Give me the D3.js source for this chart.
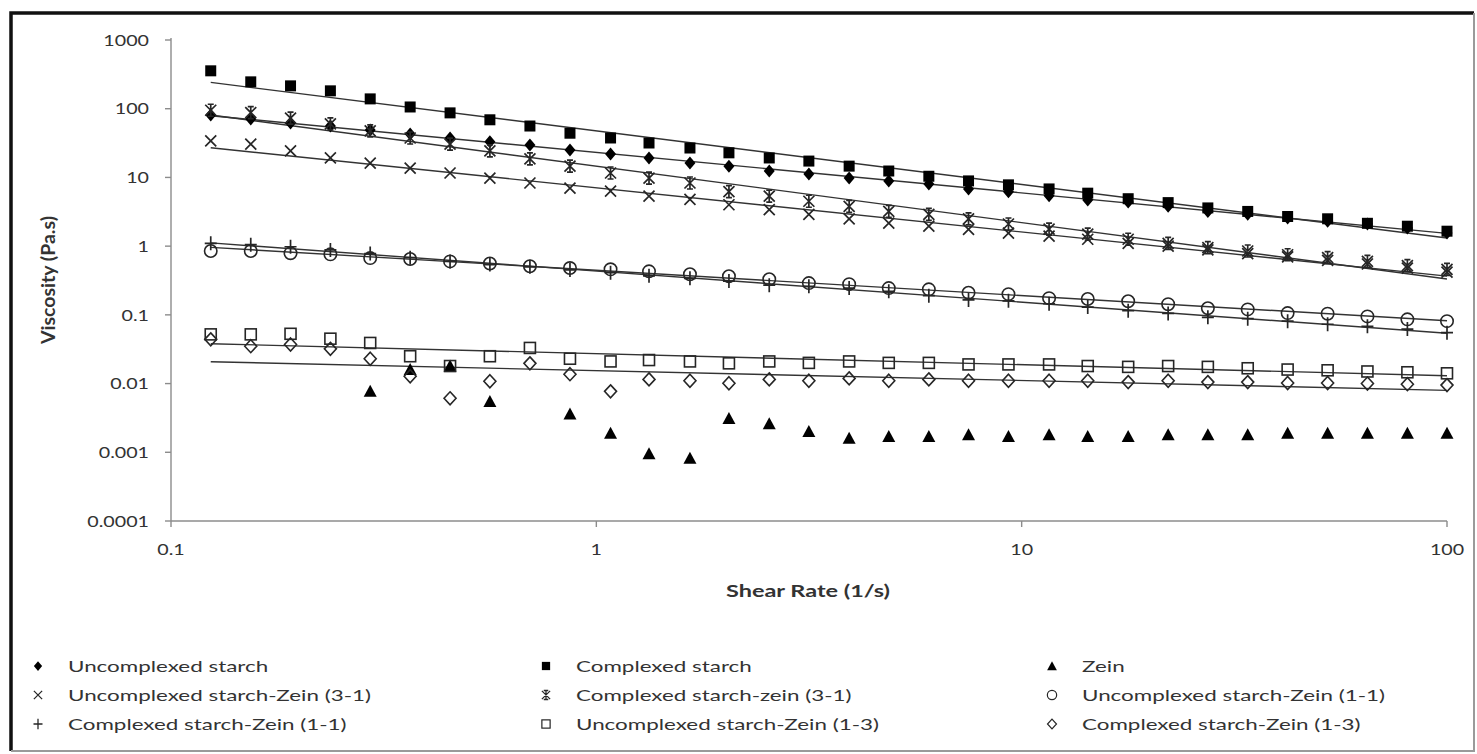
<!DOCTYPE html>
<html lang="en">
<head>
<meta charset="UTF-8">
<title>Viscosity vs Shear Rate</title>
<script src="https://cdn.jsdelivr.net/npm/d3@7"></script>
<style>
  body { margin: 0; background: #fff; }
  svg text { font-family: Lato, "Open Sans", sans-serif; fill: #333; }
</style>
</head>
<body>
<svg id="chart" width="1477" height="754"></svg>
<script>
// shear rate (1/s) of each measurement
var shearRate = [0.124, 0.154, 0.191, 0.237, 0.294, 0.365, 0.453, 0.562, 0.698, 0.867,
  1.08, 1.33, 1.66, 2.05, 2.55, 3.16, 3.93, 4.87, 6.05, 7.50,
  9.31, 11.6, 14.3, 17.8, 22.1, 27.4, 34.0, 42.2, 52.4, 65.0, 80.7, 100];

// viscosity (Pa.s) per sample
var uncomplexedStarch = [81, 71, 62, 56, 49, 43, 37.5, 33, 29.7, 25, 22, 19.2, 16.2, 14.6, 12.4, 11.2,
  9.8, 8.9, 8.0, 6.8, 6.2, 5.4, 4.7, 4.4, 3.8, 3.2, 2.9, 2.56, 2.3, 2.1, 1.83, 1.55];
var complexedStarch = [356, 246, 215, 182, 139, 106, 87, 69, 56, 44, 37.5, 31.7, 26.8, 22.8, 19.2, 17.3,
  14.6, 12.4, 10.4, 8.9, 7.8, 6.8, 5.9, 4.9, 4.3, 3.6, 3.2, 2.7, 2.5, 2.15, 1.95, 1.65];
var zein = [null, null, null, null, 0.0077, 0.016, 0.018, 0.0055, null, 0.0036, 0.0019, 0.00095, 0.00082,
  0.0031, 0.0026, 0.0020, 0.0016, 0.0017, 0.0017, 0.0018, 0.0017, 0.0018, 0.0017, 0.0017,
  0.0018, 0.0018, 0.0018, 0.0019, 0.0019, 0.0019, 0.0019, 0.0019];
var uncomplexedZein31 = [34, 30.6, 24.3, 19.2, 16.2, 13.7, 11.6, 9.8, 8.3, 7.0, 6.3, 5.35, 4.8, 4.0, 3.4, 2.9,
  2.5, 2.16, 1.95, 1.75, 1.55, 1.4, 1.26, 1.1, 1.0, 0.88, 0.78, 0.7, 0.62, 0.55, 0.48, 0.42];
var complexedZein31 = [95, 88, 73, 60, 47.5, 37.5, 30.6, 24.3, 18.6, 14.6, 11.6, 9.8, 8.3, 6.2, 5.35, 4.5,
  3.8, 3.2, 2.9, 2.5, 2.1, 1.77, 1.5, 1.26, 1.1, 0.95, 0.85, 0.75, 0.68, 0.6, 0.52, 0.46];
var uncomplexedZein11 = [0.85, 0.85, 0.79, 0.76, 0.67, 0.65, 0.60, 0.56, 0.51, 0.48, 0.46, 0.43, 0.39, 0.365,
  0.33, 0.29, 0.28, 0.245, 0.235, 0.21, 0.2, 0.175, 0.17, 0.158, 0.143, 0.125, 0.12, 0.106, 0.104, 0.095, 0.086, 0.081];
var complexedZein11 = [1.1, 1.05, 0.98, 0.88, 0.78, 0.68, 0.6, 0.54, 0.5, 0.45, 0.41, 0.37, 0.34, 0.31, 0.27,
  0.26, 0.245, 0.22, 0.19, 0.165, 0.16, 0.145, 0.13, 0.115, 0.105, 0.092, 0.088, 0.081, 0.073, 0.068, 0.062, 0.055];
var uncomplexedZein13 = [0.052, 0.052, 0.053, 0.045, 0.039, 0.025, 0.018, 0.025, 0.033, 0.023, 0.021, 0.022,
  0.021, 0.0197, 0.021, 0.020, 0.021, 0.020, 0.020, 0.019, 0.019, 0.019, 0.018, 0.0175, 0.018, 0.0175,
  0.0167, 0.016, 0.0156, 0.015, 0.0146, 0.0141];
var complexedZein13 = [0.044, 0.035, 0.037, 0.032, 0.023, 0.0128, 0.0061, 0.0108, 0.0197, 0.0137, 0.0077,
  0.0115, 0.011, 0.0101, 0.0115, 0.011, 0.0119, 0.011, 0.0115, 0.011, 0.011, 0.011, 0.011, 0.0105, 0.011,
  0.0105, 0.0105, 0.0102, 0.0102, 0.010, 0.0098, 0.0095];

var seriesNames = ["Uncomplexed starch", "Complexed starch", "Zein",
  "Uncomplexed starch-Zein (3-1)", "Complexed starch-zein (3-1)", "Uncomplexed starch-Zein (1-1)",
  "Complexed starch-Zein (1-1)", "Uncomplexed starch-Zein (1-3)", "Complexed starch-Zein (1-3)"];
var seriesValues = [uncomplexedStarch, complexedStarch, zein, uncomplexedZein31, complexedZein31,
  uncomplexedZein11, complexedZein11, uncomplexedZein13, complexedZein13];
var seriesSymbols = ["diamond", "square", "triangle", "cross", "star", "circle", "plus", "openSquare", "openDiamond"];
var seriesTrend = [true, true, false, true, true, true, true, true, true];

var xTicks = [0.1, 1, 10, 100];
var yTicks = [0.0001, 0.001, 0.01, 0.1, 1, 10, 100, 1000];

var svg = d3.select("#chart");
var plot = {left: 171, right: 1447, top: 40, bottom: 521};

var x = d3.scaleLog().domain([0.1, 100]).range([plot.left, plot.right]);
var y = d3.scaleLog().domain([0.0001, 1000]).range([plot.bottom, plot.top]);

// frame
svg.append("rect").attr("x", 0).attr("y", 0).attr("width", 1477).attr("height", 754).attr("fill", "#fff");
svg.append("path").attr("d", "M11,751 V13 H1474").attr("fill", "none").attr("stroke", "#111").attr("stroke-width", 3.5);
svg.append("path").attr("d", "M1474,13 V751 H11").attr("fill", "none").attr("stroke", "#9a9a9a").attr("stroke-width", 2);

// the source chart is wider than tall, so text gets a horizontal stretch
function wideText(g, px, py, str, anchor, size, sx, weight) {
  return g.append("text")
    .attr("transform", "translate(" + px + "," + py + ") scale(" + sx + ",1)")
    .attr("text-anchor", anchor)
    .attr("dominant-baseline", "central")
    .style("font-size", size + "px")
    .style("font-weight", weight || "normal")
    .text(str);
}

// axes
var axes = svg.append("g");
axes.append("line").attr("x1", plot.left).attr("x2", plot.left).attr("y1", plot.top - 2).attr("y2", plot.bottom)
  .attr("stroke", "#8c8c8c").attr("stroke-width", 1.4);
axes.append("line").attr("x1", plot.left).attr("x2", plot.right).attr("y1", plot.bottom).attr("y2", plot.bottom)
  .attr("stroke", "#8c8c8c").attr("stroke-width", 1.4);
yTicks.forEach(function(t) {
  axes.append("line").attr("x1", plot.left - 6).attr("x2", plot.left).attr("y1", y(t)).attr("y2", y(t))
    .attr("stroke", "#8c8c8c").attr("stroke-width", 1.4);
  wideText(axes, 149, y(t), String(t), "end", 15.5, 1.27);
});
xTicks.forEach(function(t) {
  axes.append("line").attr("x1", x(t)).attr("x2", x(t)).attr("y1", plot.bottom).attr("y2", plot.bottom + 6)
    .attr("stroke", "#8c8c8c").attr("stroke-width", 1.4);
  wideText(axes, x(t), 549, String(t), "middle", 15.5, 1.27);
});
wideText(axes, 808, 590, "Shear Rate (1/s)", "middle", 17, 1.38, "bold");
axes.append("text")
  .attr("transform", "translate(47,280) rotate(-90)")
  .attr("text-anchor", "middle").attr("dominant-baseline", "central")
  .style("font-size", "19.5px").style("font-weight", "bold")
  .text("Viscosity (Pa.s)");

// marker shapes
function drawMarker(g, sym, cx, cy, k) {
  var s = k || 1;
  var ink = "#262626";
  var m = g.append("g").attr("transform", "translate(" + cx + "," + cy + ") scale(" + s + ")");
  if (sym === "diamond") m.append("path").attr("d", "M0,-6.5L5.5,0L0,6.5L-5.5,0Z").attr("fill", "#000");
  if (sym === "square") m.append("rect").attr("x", -5.5).attr("y", -5.5).attr("width", 11).attr("height", 11).attr("fill", "#000");
  if (sym === "triangle") m.append("path").attr("d", "M0,-6.5L6.5,5.5L-6.5,5.5Z").attr("fill", "#000");
  if (sym === "cross") m.append("path").attr("d", "M-5.5,-5.5L5.5,5.5M-5.5,5.5L5.5,-5.5")
    .attr("stroke", ink).attr("stroke-width", 1.7).attr("fill", "none");
  if (sym === "star") m.append("path").attr("d", "M-5.5,-5.5L5.5,5.5M-5.5,5.5L5.5,-5.5M0,-6.5L0,6.5M-3,-6L3,-6M-3,6L3,6")
    .attr("stroke", ink).attr("stroke-width", 1.7).attr("fill", "none");
  if (sym === "circle") m.append("circle").attr("r", 6.2)
    .attr("stroke", ink).attr("stroke-width", 1.6).attr("fill", "none");
  if (sym === "plus") m.append("path").attr("d", "M-6,0L6,0M0,-7L0,7")
    .attr("stroke", ink).attr("stroke-width", 1.7).attr("fill", "none");
  if (sym === "openSquare") m.append("rect").attr("x", -5.5).attr("y", -5.5).attr("width", 11).attr("height", 11)
    .attr("stroke", ink).attr("stroke-width", 1.6).attr("fill", "none");
  if (sym === "openDiamond") m.append("path").attr("d", "M0,-6.5L6,0L0,6.5L-6,0Z")
    .attr("stroke", ink).attr("stroke-width", 1.6).attr("fill", "none");
}

// power-law trend lines (least squares in log-log space)
var trendLayer = svg.append("g");
seriesValues.forEach(function(vals, i) {
  if (!seriesTrend[i]) return;
  var pts = [];
  vals.forEach(function(v, j) { if (v != null) pts.push([Math.log10(shearRate[j]), Math.log10(v)]); });
  var mx = d3.mean(pts, function(p) { return p[0]; });
  var my = d3.mean(pts, function(p) { return p[1]; });
  var sxy = d3.sum(pts, function(p) { return (p[0] - mx) * (p[1] - my); });
  var sxx = d3.sum(pts, function(p) { return (p[0] - mx) * (p[0] - mx); });
  var b = sxy / sxx, a = my - b * mx;
  var x0 = d3.min(pts, function(p) { return p[0]; }), x1 = d3.max(pts, function(p) { return p[0]; });
  var line = d3.line().x(function(d) { return x(Math.pow(10, d)); }).y(function(d) { return y(Math.pow(10, a + b * d)); });
  trendLayer.append("path").attr("d", line([x0, x1]))
    .attr("fill", "none").attr("stroke", "#333").attr("stroke-width", 1.4);
});

// data markers
var markLayer = svg.append("g");
seriesValues.forEach(function(vals, i) {
  vals.forEach(function(v, j) {
    if (v == null) return;
    drawMarker(markLayer, seriesSymbols[i], x(shearRate[j]), y(v), 1);
  });
});

// legend
var legendCols = [38, 546, 1052];
var legendRows = [666, 695, 724];
var legend = svg.append("g");
seriesNames.forEach(function(name, i) {
  var cx = legendCols[i % 3], cy = legendRows[Math.floor(i / 3)];
  drawMarker(legend, seriesSymbols[i], cx, cy, 0.75);
  wideText(legend, cx + 30, cy, name, "start", 16, 1.4);
});
</script>
</body>
</html>
